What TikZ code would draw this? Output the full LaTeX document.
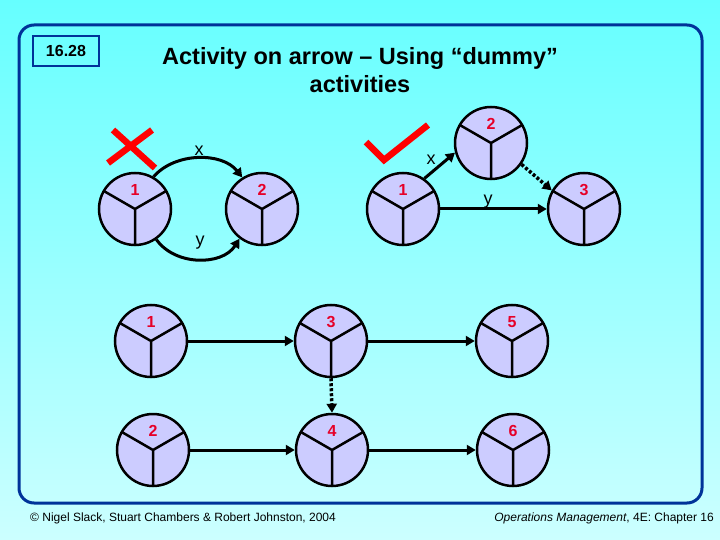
\documentclass[tikz,border=0pt]{standalone}
\usepackage{fontspec}
\setmainfont{Liberation Sans}
\usetikzlibrary{arrows.meta}
\definecolor{bgtop}{RGB}{102,255,255}
\definecolor{bgbot}{RGB}{204,255,255}
\definecolor{framecol}{RGB}{0,51,153}
\definecolor{lav}{RGB}{204,204,255}
\definecolor{numred}{RGB}{230,0,40}
\definecolor{markred}{RGB}{255,0,0}
\begin{document}
\begin{tikzpicture}[x=1pt,y=-1pt,
 evt/.style={circle, draw=black, line width=2.5pt, fill=lav, minimum size=72pt, inner sep=0pt,
   path picture={\draw[line width=2.5pt] (path picture bounding box.center) -- +(150:40pt)
     (path picture bounding box.center) -- +(30:40pt)
     (path picture bounding box.center) -- +(270:40pt);}},
 num/.style={text=numred, font=\bfseries\fontsize{16}{16}\selectfont, yshift=19pt, inner sep=0pt},
 act/.style={line width=3pt, -{Triangle[length=9pt,width=10pt]}},
 dummy/.style={act, line width=3.5pt, dash pattern=on 3pt off 2pt},
 lbl/.style={font=\fontsize{18}{18}\selectfont, inner sep=0pt},
 foot/.style={font=\fontsize{12}{12}\selectfont, inner sep=0pt},
 ]
\shade[top color=bgtop, bottom color=bgbot] (0,0) rectangle (720,540);
\useasboundingbox (0,0) rectangle (720,540);
\draw[framecol, line width=3pt, rounded corners=15pt] (19,25) rectangle (702,503);
\node[draw=framecol, line width=1.5pt, minimum width=66pt, minimum height=30pt,
  font=\bfseries\fontsize{16}{16}\selectfont, inner sep=0pt] (sec) at (66,51) {16.28};
\node[font=\bfseries\fontsize{23.5}{28}\selectfont, align=center, inner sep=0pt] (title) at (360,70)
  {Activity on arrow – Using “dummy”\\activities};

% cross and check
\draw[markred, line width=6.5pt] (113,130) -- (155,168) (108,163) -- (152,130);
\draw[markred, line width=6.5pt, line join=miter] (366,142) -- (384,160) -- (428,125);

% top-left (wrong)
\node[evt, label={[num]center:1}] (l1) at (135,209) {};
\node[evt, label={[num]center:2}] (l2) at (262,209) {};
\draw[act] (l1.60) .. controls (175,152) and (222,152) .. (l2.122);
\draw[act] (l1.-55) .. controls (175,266) and (222,266) .. (l2.-127);
\node[lbl] (lx) at (199,151) {x};
\node[lbl] (ly) at (200,243) {y};

% top-right (right)
\node[evt, label={[num]center:1}] (r1) at (403,209) {};
\node[evt, label={[num]center:2}] (r2) at (491,143) {};
\node[evt, label={[num]center:3}] (r3) at (584,209) {};
\draw[act] (r1.55) -- (r2.195);
\draw[act] (r1.east) -- (r3.west);
\draw[dummy] (r2.-35) -- (r3.150);
\node[lbl] (rx) at (431,160) {x};
\node[lbl] (ry) at (488,202) {y};

% bottom
\node[evt, label={[num]center:1}] (b1) at (151,341) {};
\node[evt, label={[num]center:3}] (b3) at (331,341) {};
\node[evt, label={[num]center:5}] (b5) at (512,341) {};
\node[evt, label={[num]center:2}] (b2) at (153,450) {};
\node[evt, label={[num]center:4}] (b4) at (332,450) {};
\node[evt, label={[num]center:6}] (b6) at (513,450) {};
\draw[act] (b1.east) -- (b3.west);
\draw[act] (b3.east) -- (b5.west);
\draw[act] (b2.east) -- (b4.west);
\draw[act] (b4.east) -- (b6.west);
\draw[dummy] (b3.south) -- (b4.north);

% footer
\node[foot, anchor=west] (copy) at (30,518) {© Nigel Slack, Stuart Chambers \& Robert Johnston, 2004};
\node[foot, anchor=east] (src) at (714,518) {\textit{Operations Management}, 4E: Chapter 16};
\end{tikzpicture}
\end{document}
